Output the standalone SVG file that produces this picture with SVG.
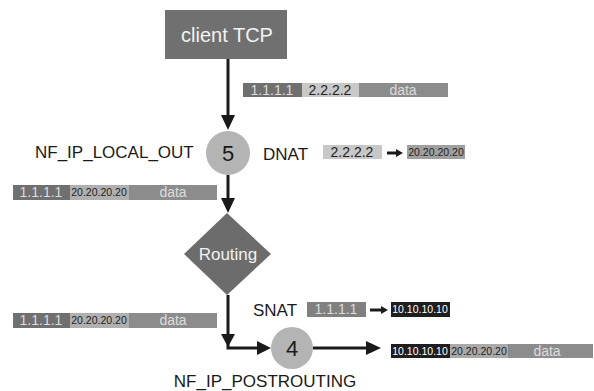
<svg xmlns="http://www.w3.org/2000/svg" width="594" height="391" viewBox="0 0 594 391">
<defs>
<style>
text{font-family:"Liberation Sans",Arial,sans-serif}
.lbl{font-size:17px;fill:#1a1a1a}
.line{stroke:#1a1a1a;stroke-width:3;fill:none}
.ah{fill:#1a1a1a}
.big{font-size:14px;text-anchor:middle}
.sm{font-size:10.5px;text-anchor:middle}
.lt{fill:#dcdcdc}
.dk{fill:#222}
.wh{fill:#fff}
</style>
</defs>
<rect width="594" height="391" fill="#fff"/>
<g id="client">
<rect x="165" y="10" width="122" height="49" fill="#707070"/>
<text x="227" y="42" font-size="20" fill="#f2f2f2" text-anchor="middle">client TCP</text>
</g>
<g id="connectors">
<line class="line" x1="228" y1="59" x2="228" y2="117"/>
<polygon class="ah" points="221,115 235,115 228,130"/>
<line class="line" x1="228" y1="175" x2="228" y2="200"/>
<polygon class="ah" points="221,198 235,198 228,213"/>
<polyline class="line" points="228,295 228,348 258,348"/>
<polygon class="ah" points="221,334 235,334 228,347"/>
<polygon class="ah" points="257,341 257,355 271,348"/>
<line class="line" x1="313" y1="348" x2="368" y2="348"/>
<polygon class="ah" points="366,341 366,355 381,348"/>
<line class="line" x1="387" y1="153" x2="398" y2="153" stroke-width="2.5"/>
<polygon class="ah" points="396,149 396,157 403,153"/>
<line class="line" x1="370" y1="310" x2="383" y2="310" stroke-width="2.5"/>
<polygon class="ah" points="381,306 381,314 388,310"/>
</g>
<g id="node5">
<circle cx="228" cy="153" r="22" fill="#b4b4b4"/>
<text x="228" y="161" font-size="22" fill="#1a1a1a" text-anchor="middle">5</text>
<text class="lbl" x="35" y="158">NF_IP_LOCAL_OUT</text>
</g>
<g id="routing">
<polygon points="227,213 271,254 227,295 184,254" fill="#6c6c6c"/>
<text x="228" y="260" font-size="17" fill="#f2f2f2" text-anchor="middle">Routing</text>
</g>
<g id="node4">
<circle cx="292" cy="348" r="21" fill="#b4b4b4"/>
<text x="292" y="356" font-size="22" fill="#1a1a1a" text-anchor="middle">4</text>
<text class="lbl" x="265" y="387" text-anchor="middle">NF_IP_POSTROUTING</text>
</g>
<g id="packet-top">
<rect x="243" y="83" width="59" height="14" fill="#707070"/>
<rect x="302" y="83" width="57" height="14" fill="#c8c8c8"/>
<rect x="359" y="83" width="89" height="14" fill="#8c8c8c"/>
<text class="big lt" x="272" y="95">1.1.1.1</text>
<text class="big dk" x="330" y="95">2.2.2.2</text>
<text class="big lt" x="403" y="95">data</text>
</g>
<g id="dnat">
<text class="lbl" x="263" y="160">DNAT</text>
<rect x="323" y="145" width="59" height="14" fill="#c8c8c8"/>
<text class="big dk" x="352" y="157">2.2.2.2</text>
<rect x="407" y="145" width="58" height="14" fill="#a0a0a0"/>
<text class="sm dk" x="436" y="156">20.20.20.20</text>
</g>
<g id="packet-left1">
<rect x="13" y="185" width="57" height="15" fill="#707070"/>
<rect x="70" y="185" width="59" height="15" fill="#b0b0b0"/>
<rect x="129" y="185" width="88" height="15" fill="#8c8c8c"/>
<text class="big lt" x="41" y="197">1.1.1.1</text>
<text class="sm dk" x="99" y="196">20.20.20.20</text>
<text class="big lt" x="173" y="197">data</text>
</g>
<g id="packet-left2">
<rect x="13" y="313" width="57" height="15" fill="#707070"/>
<rect x="70" y="313" width="59" height="15" fill="#b0b0b0"/>
<rect x="129" y="313" width="88" height="15" fill="#8c8c8c"/>
<text class="big lt" x="41" y="325">1.1.1.1</text>
<text class="sm dk" x="99" y="324">20.20.20.20</text>
<text class="big lt" x="173" y="325">data</text>
</g>
<g id="snat">
<text class="lbl" x="253" y="316">SNAT</text>
<rect x="307" y="302" width="59" height="15" fill="#808080"/>
<text class="big lt" x="336" y="314">1.1.1.1</text>
<rect x="391" y="302" width="59" height="15" fill="#1e1e1e"/>
<text class="sm wh" x="420" y="313">10.10.10.10</text>
</g>
<g id="packet-out">
<rect x="391" y="344" width="59" height="14" fill="#1e1e1e"/>
<rect x="450" y="344" width="58" height="14" fill="#aaaaaa"/>
<rect x="508" y="344" width="85" height="14" fill="#8c8c8c"/>
<text class="sm wh" x="420" y="355">10.10.10.10</text>
<text class="sm dk" x="479" y="355">20.20.20.20</text>
<text class="big lt" x="547" y="356">data</text>
</g>
</svg>
